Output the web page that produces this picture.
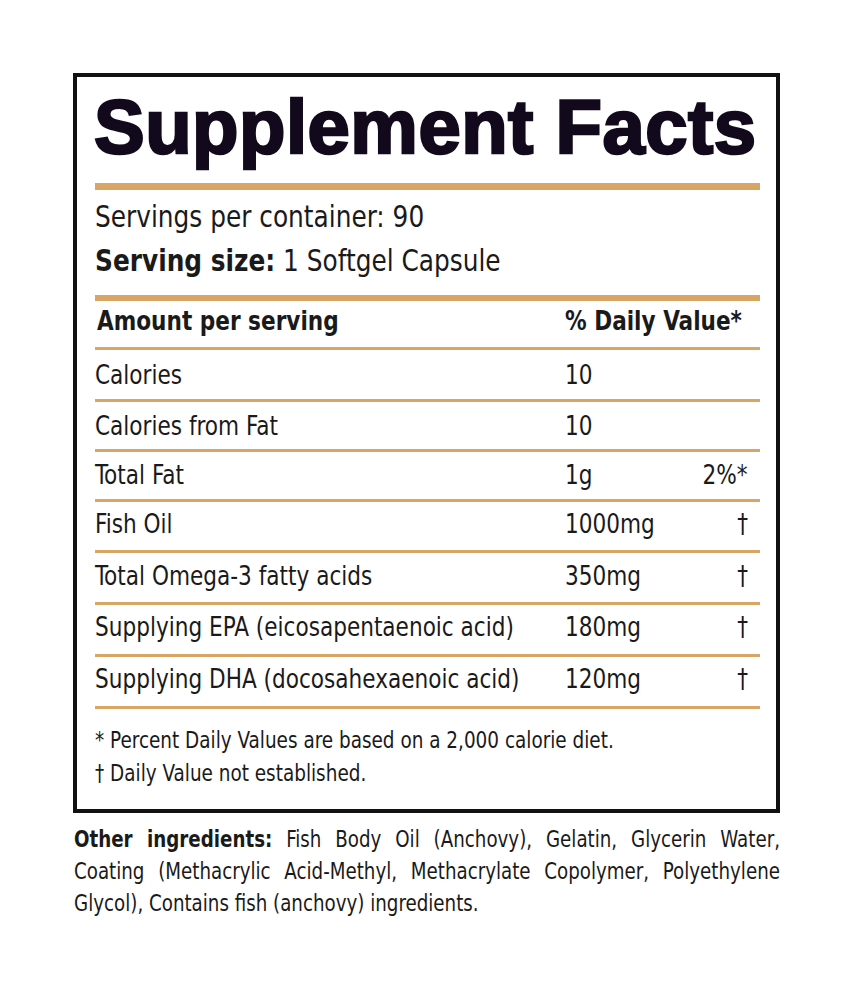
<!DOCTYPE html>
<html><head><meta charset="utf-8">
<script src="https://cdn.jsdelivr.net/npm/chart.js@4"></script>
<style>
body{margin:0;width:854px;height:994px;background:#fff;position:relative;font-family:"Liberation Sans Narrow","DejaVu Sans Condensed",sans-serif;color:#1a1a1a;overflow:hidden}
#box{position:absolute;left:73px;top:73px;width:699px;height:732px;border:4px solid #111}
.a{position:absolute;white-space:nowrap;transform:scaleX(0.89);transform-origin:left center}
.r{transform-origin:right center}
.rule{position:absolute;left:95px;width:665px;background:#d9a565}
#title{left:94px;top:83px;font-family:"Liberation Sans",Arial,sans-serif;font-weight:900;font-size:76px;color:#120a1c;letter-spacing:0.5px;-webkit-text-stroke:2.5px #120a1c;transform:none}
#other{position:absolute;left:74px;top:823px;width:818px;font-size:23.5px;line-height:32px;text-align:justify;transform:scaleX(0.863);transform-origin:left top}
</style></head><body>
<div id="box"></div>
<div id="root"></div>
<div id="other"><b>Other ingredients:</b> Fish Body Oil (Anchovy), Gelatin, Glycerin Water, Coating (Methacrylic Acid-Methyl, Methacrylate Copolymer, Polyethylene Glycol), Contains fish (anchovy) ingredients.</div>
<script>
const nutrients=["Calories","Calories from Fat","Total Fat","Fish Oil","Total Omega-3 fatty acids","Supplying EPA (eicosapentaenoic acid)","Supplying DHA (docosahexaenoic acid)"];
const amounts=["10","10","1g","1000mg","350mg","180mg","120mg"];
const dailyValues=["","","2%*","†","†","†","†"];
const root=document.getElementById('root');
function el(html,css,cls){const d=document.createElement('div');d.className=cls||'a';d.innerHTML=html;Object.assign(d.style,css);root.appendChild(d);return d;}
el('Supplement Facts',{},'a').id='title';
el('',{top:'183px',height:'7px'},'rule');
el('Servings per container: 90',{left:'95px',top:'198px',fontSize:'31px'});
el('<b>Serving size:</b> 1 Softgel Capsule',{left:'95px',top:'242px',fontSize:'31px'});
el('',{top:'295px',height:'6px'},'rule');
el('<b>Amount per serving</b>',{left:'97px',top:'305px',fontSize:'27px'});
el('<b>% Daily Value*</b>',{left:'565px',top:'305px',fontSize:'27px'});
const lines=[348,400,450,500,551,603,655,707];
lines.forEach(y=>el('',{top:(y-1)+'px',height:'3px'},'rule'));
nutrients.forEach((n,i)=>{
  const cy=[376,427,476,525,577,628,680][i];
  el(n,{left:'95px',top:(cy-17)+'px',fontSize:'27px'});
  el(amounts[i],{left:'565px',top:(cy-17)+'px',fontSize:'27px'});
  el(dailyValues[i],{right:(854-748)+'px',top:(cy-17)+'px',fontSize:'27px'},'a r');
});
el('* Percent Daily Values are based on a 2,000 calorie diet.',{left:'95px',top:'727px',fontSize:'23px'});
el('† Daily Value not established.',{left:'95px',top:'760px',fontSize:'23px'});
</script>
</body></html>
